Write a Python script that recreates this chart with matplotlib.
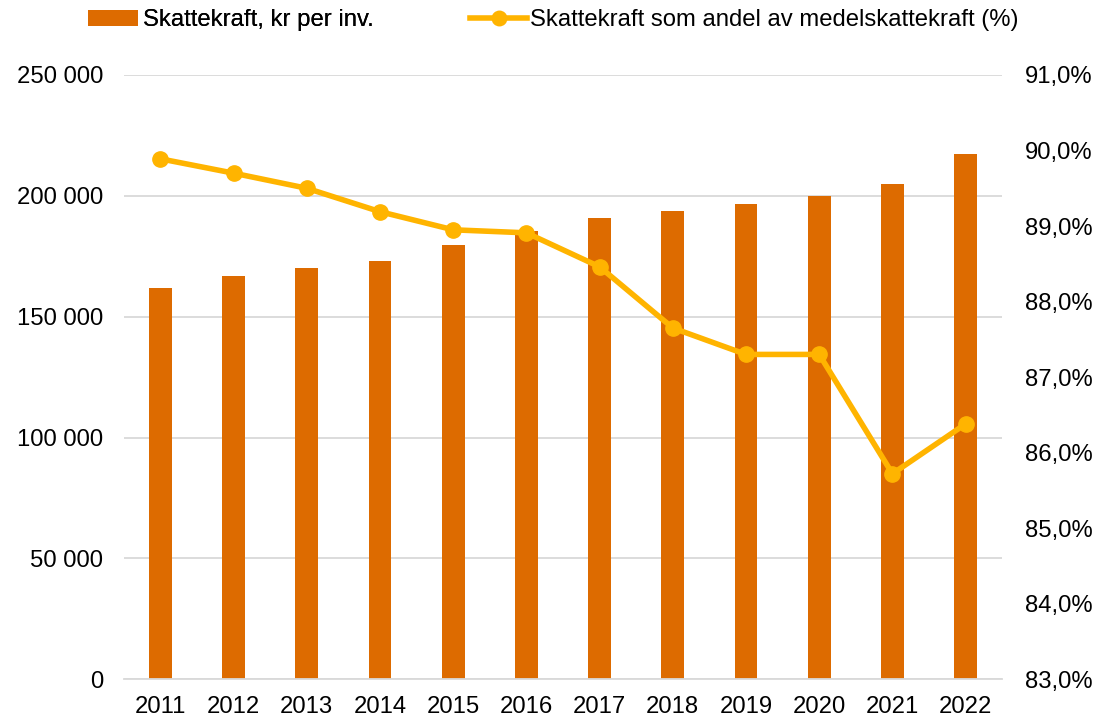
import matplotlib.pyplot as plt
from matplotlib.ticker import FuncFormatter

plt.rcParams['font.family'] = ['Liberation Sans', 'DejaVu Sans']

years = ['2011', '2012', '2013', '2014', '2015', '2016',
         '2017', '2018', '2019', '2020', '2021', '2022']
skattekraft = [161800, 166800, 170100, 173000, 179600, 185400,
               190800, 193700, 196600, 199900, 204900, 217300]
andel = [89.89, 89.70, 89.50, 89.19, 88.95, 88.91,
         88.46, 87.65, 87.30, 87.30, 85.72, 86.38]

bar_color = '#DD6B00'
line_color = '#FFB400'
fs = 17.2

fig = plt.figure(figsize=(11.05, 7.21), dpi=100)
ax = fig.add_axes([0.112, 0.058, 0.795, 0.838])
ax2 = ax.twinx()

x = list(range(len(years)))
bars = ax.bar(x, skattekraft, width=0.31, color=bar_color, zorder=2,
              label='Skattekraft, kr per inv.')
ax.set_ylim(0, 250000)
ax.set_yticks(range(0, 250001, 50000))
ax.yaxis.set_major_formatter(FuncFormatter(lambda v, p: f'{int(v):,}'.replace(',', ' ')))
ax.set_xlim(-0.5, len(years) - 0.5)
ax.set_xticks(x)
ax.set_xticklabels(years)
ax.grid(axis='y', color='#d9d9d9', linewidth=1.3, zorder=0)
ax.set_axisbelow(True)

line, = ax2.plot(x, andel, color=line_color, linewidth=4, marker='o', markersize=11,
                 label='Skattekraft som andel av medelskattekraft (%)', zorder=3)
ax2.set_ylim(83, 91)
ax2.set_yticks(range(83, 92))
ax2.yaxis.set_major_formatter(FuncFormatter(lambda v, p: f'{v:.1f}%'.replace('.', ',')))

for a in (ax, ax2):
    for s in a.spines.values():
        s.set_visible(False)
    a.tick_params(length=0, labelsize=fs, colors='black')
ax.spines['bottom'].set_visible(True)
ax.spines['bottom'].set_color('#d9d9d9')
ax.spines['bottom'].set_linewidth(1.3)
ax.tick_params(axis='y', pad=15)
ax.tick_params(axis='x', pad=12)
ax2.tick_params(axis='y', pad=16.5)

leg1 = fig.legend([bars], [bars.get_label()], loc='center left',
                  bbox_to_anchor=(0.0796, 0.972), frameon=False, fontsize=fs,
                  handlelength=2.1, handleheight=0.63, handletextpad=0.2,
                  borderpad=0, borderaxespad=0)
fig.add_artist(leg1)
fig.legend([line], [line.get_label()], loc='center left',
           bbox_to_anchor=(0.4253, 0.972), frameon=False, fontsize=fs,
           handlelength=2.4, handletextpad=0.1, markerscale=0.95,
           borderpad=0, borderaxespad=0)

fig.savefig('out.png', dpi=100)
